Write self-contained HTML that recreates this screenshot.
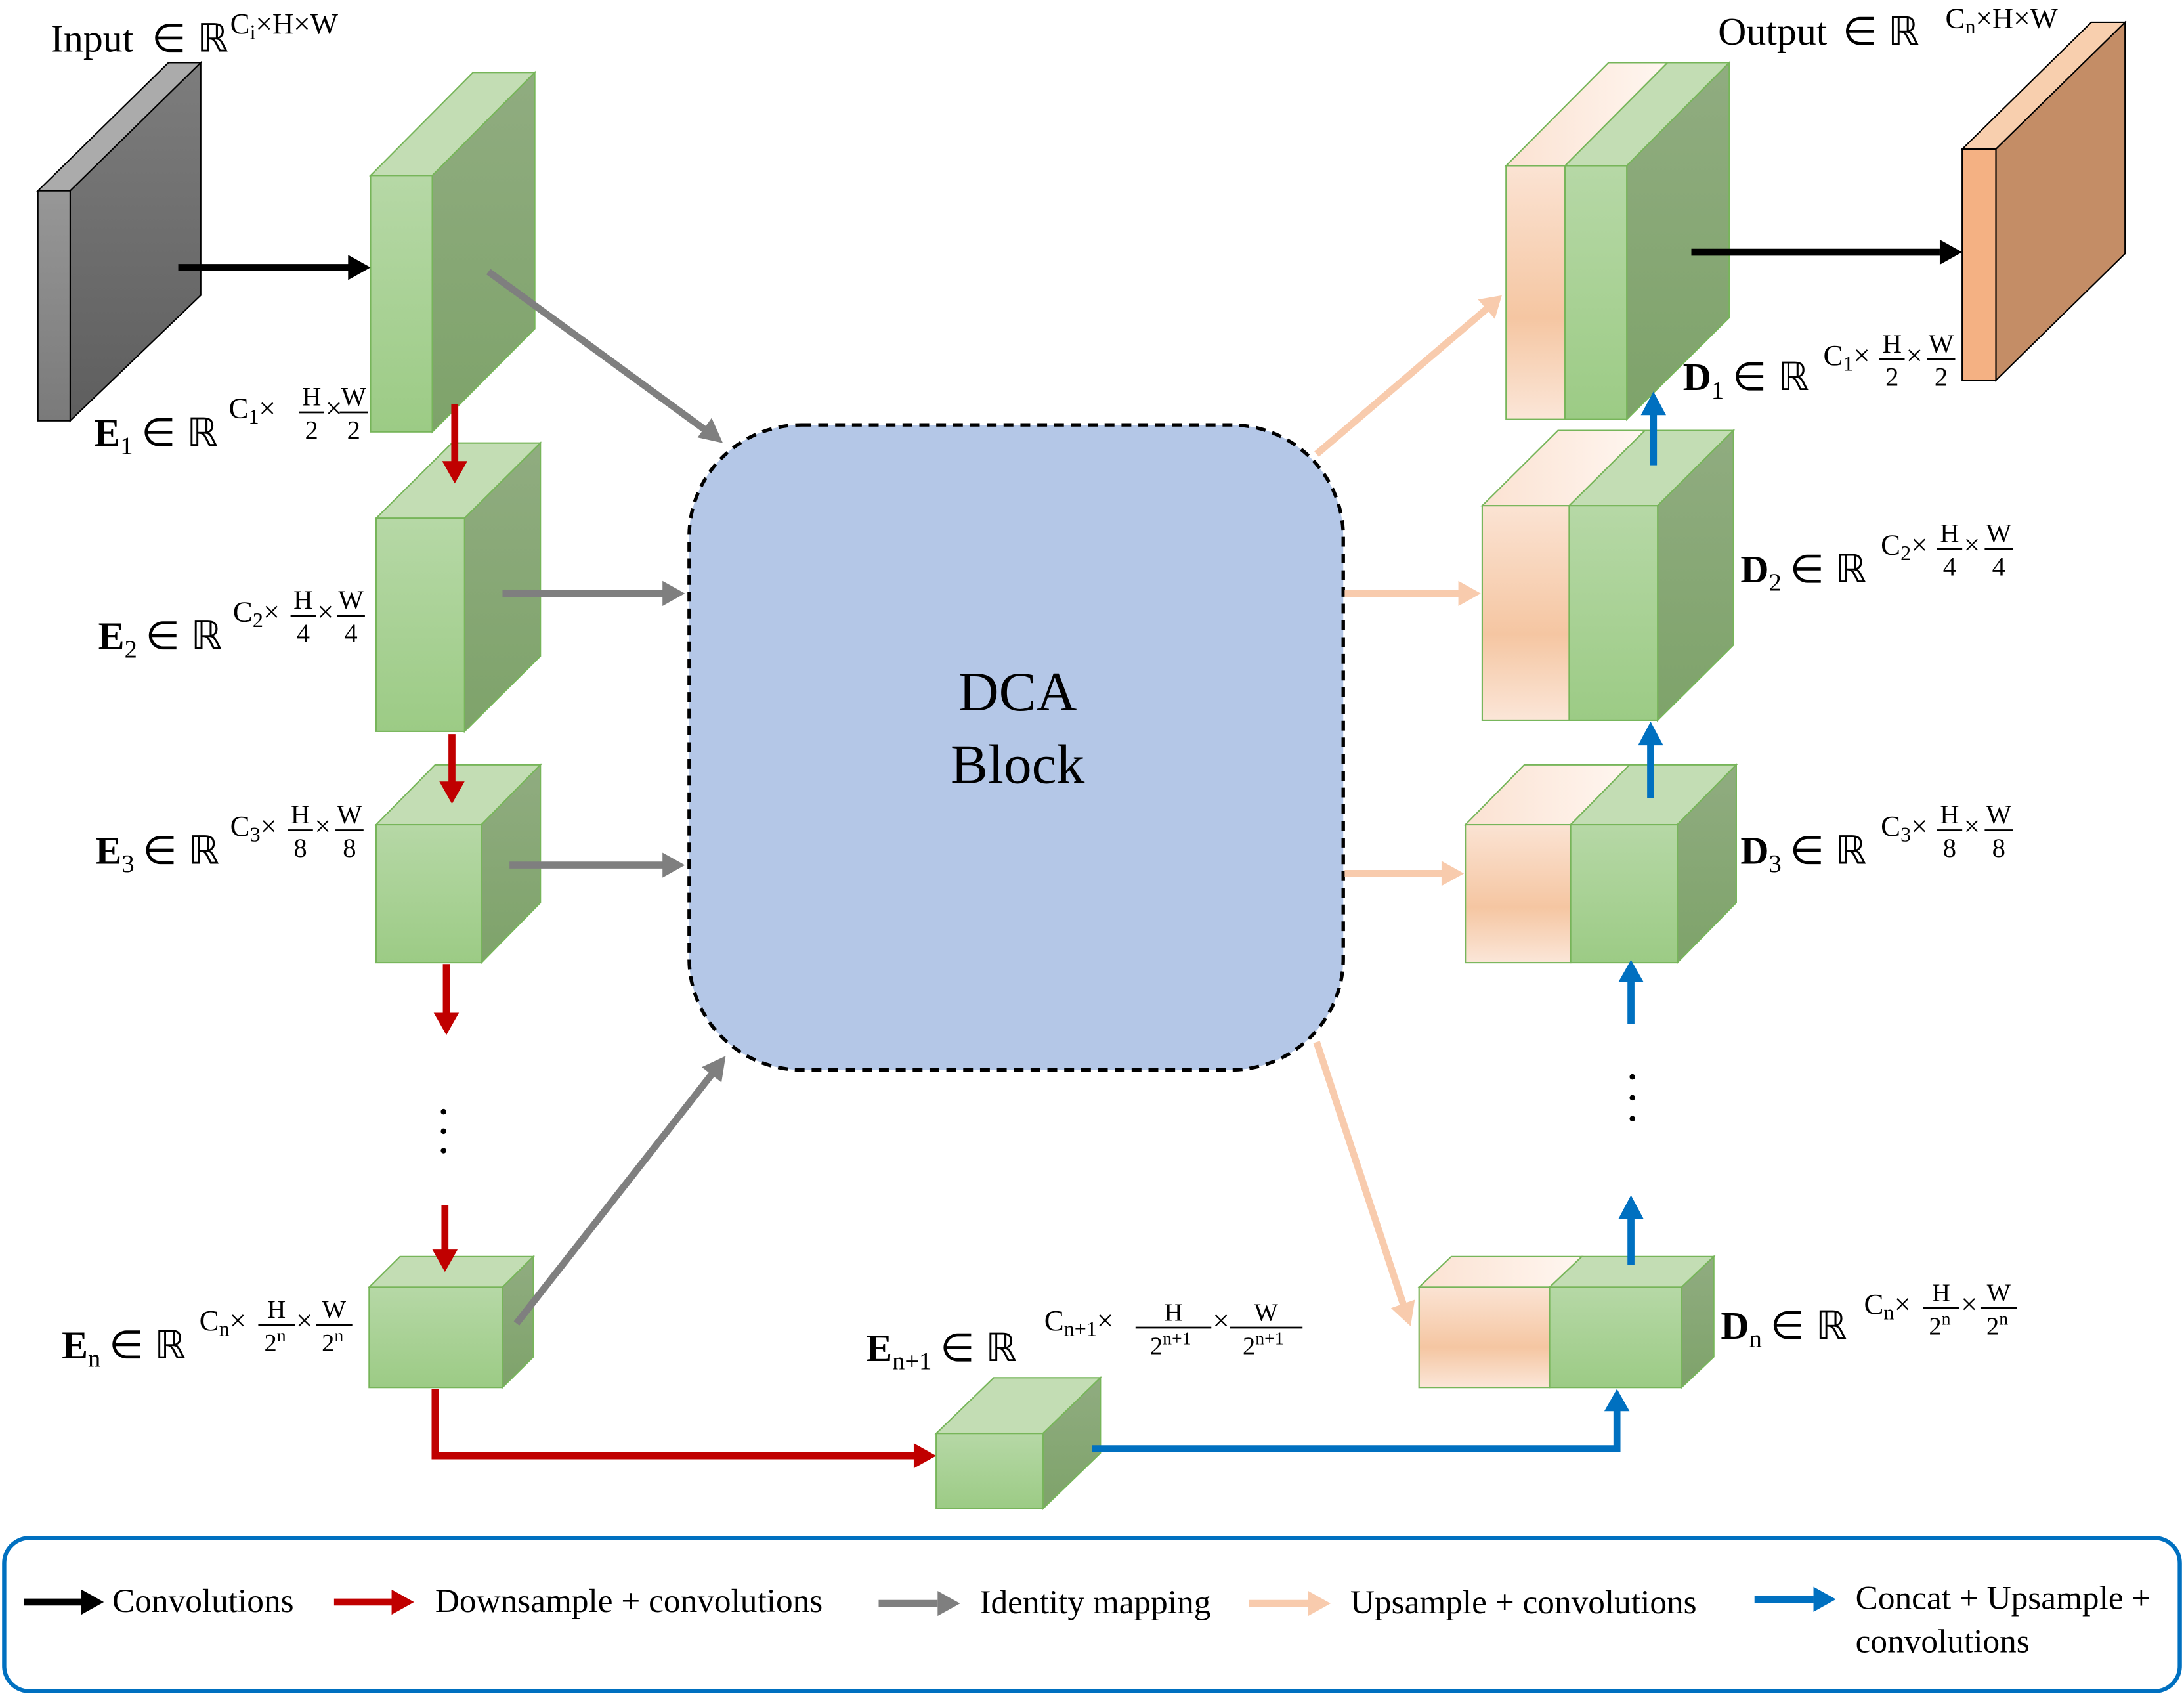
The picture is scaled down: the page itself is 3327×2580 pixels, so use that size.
<!DOCTYPE html>
<html><head><meta charset="utf-8"><style>html,body{margin:0;padding:0;background:#fff}svg{display:block}</style></head><body>
<svg width="3327" height="2580" viewBox="0 0 1556 1216" preserveAspectRatio="none" xmlns="http://www.w3.org/2000/svg" font-family="Liberation Serif, serif">
<defs>
<linearGradient id="gf" x1="0" y1="0" x2="0" y2="1"><stop offset="0" stop-color="#b6d8a6"/><stop offset="1" stop-color="#9ccb85"/></linearGradient>
<linearGradient id="gr" x1="0" y1="0" x2="0" y2="1"><stop offset="0" stop-color="#90ac80"/><stop offset="1" stop-color="#7ea36a"/></linearGradient>
<linearGradient id="pf" x1="0" y1="0" x2="0" y2="1"><stop offset="0" stop-color="#fbe3d3"/><stop offset="0.6" stop-color="#f5c6a2"/><stop offset="1" stop-color="#fbe6d8"/></linearGradient>
<linearGradient id="pt" x1="0" y1="0" x2="1" y2="0"><stop offset="0" stop-color="#fbe2d2"/><stop offset="1" stop-color="#fff6f0"/></linearGradient>
<linearGradient id="kf" x1="0" y1="0" x2="0" y2="1"><stop offset="0" stop-color="#979797"/><stop offset="1" stop-color="#7a7a7a"/></linearGradient>
<linearGradient id="kr" x1="0" y1="0" x2="0" y2="1"><stop offset="0" stop-color="#7d7d7d"/><stop offset="1" stop-color="#5e5e5e"/></linearGradient>
</defs>

<g stroke="#000" stroke-width="1">
<polygon points="27,137 50,137 143,45 120,45" fill="#ababab"/>
<polygon points="50,137 143,45 143,212 50,302" fill="url(#kr)"/>
<rect x="27" y="137" width="23" height="165" fill="url(#kf)"/>
</g>
<g stroke="#000" stroke-width="1">
<polygon points="1398,107 1422,107 1514,16 1490,16" fill="#f8cfae"/>
<polygon points="1422,107 1514,16 1514,182 1422,273" fill="#c48d66"/>
<rect x="1398" y="107" width="24" height="166" fill="#f4b183"/>
</g>

<g stroke="#77b55a" stroke-width="1">
<polygon points="264,126 308,126 381,52 337,52" fill="#c3ddb4"/><polygon points="308,126 381,52 381,236 308,310" fill="url(#gr)"/><rect x="264" y="126" width="44" height="184" fill="url(#gf)"/>
<polygon points="268,372 331,372 385,318 322,318" fill="#c3ddb4"/><polygon points="331,372 385,318 385,471 331,525" fill="url(#gr)"/><rect x="268" y="372" width="63" height="153" fill="url(#gf)"/>
<polygon points="268,592 343,592 385,549 310,549" fill="#c3ddb4"/><polygon points="343,592 385,549 385,648 343,691" fill="url(#gr)"/><rect x="268" y="592" width="75" height="99" fill="url(#gf)"/>
<polygon points="263,924 358,924 380,902 285,902" fill="#c3ddb4"/><polygon points="358,924 380,902 380,974 358,996" fill="url(#gr)"/><rect x="263" y="924" width="95" height="72" fill="url(#gf)"/>
<polygon points="667,1029 743,1029 784,989 708,989" fill="#c3ddb4"/><polygon points="743,1029 784,989 784,1043 743,1083" fill="url(#gr)"/><rect x="667" y="1029" width="76" height="54" fill="url(#gf)"/>
<polygon points="1073,119 1115,119 1188,45 1146,45" fill="url(#pt)"/><polygon points="1115,119 1159,119 1232,45 1188,45" fill="#c3ddb4"/><polygon points="1159,119 1232,45 1232,228 1159,301" fill="url(#gr)"/><rect x="1073" y="119" width="42" height="182" fill="url(#pf)"/><rect x="1115" y="119" width="44" height="182" fill="url(#gf)"/>
<polygon points="1056,363 1118,363 1172,309 1110,309" fill="url(#pt)"/><polygon points="1118,363 1181,363 1235,309 1172,309" fill="#c3ddb4"/><polygon points="1181,363 1235,309 1235,463 1181,517" fill="url(#gr)"/><rect x="1056" y="363" width="62" height="154" fill="url(#pf)"/><rect x="1118" y="363" width="63" height="154" fill="url(#gf)"/>
<polygon points="1044,592 1119,592 1161,549 1086,549" fill="url(#pt)"/><polygon points="1119,592 1195,592 1237,549 1161,549" fill="#c3ddb4"/><polygon points="1195,592 1237,549 1237,648 1195,691" fill="url(#gr)"/><rect x="1044" y="592" width="75" height="99" fill="url(#pf)"/><rect x="1119" y="592" width="76" height="99" fill="url(#gf)"/>
<polygon points="1011,924 1104,924 1127,902 1034,902" fill="url(#pt)"/><polygon points="1104,924 1198,924 1221,902 1127,902" fill="#c3ddb4"/><polygon points="1198,924 1221,902 1221,974 1198,996" fill="url(#gr)"/><rect x="1011" y="924" width="93" height="72" fill="url(#pf)"/><rect x="1104" y="924" width="94" height="72" fill="url(#gf)"/>
</g>

<rect x="491" y="305" width="466" height="463" rx="80" fill="#b4c7e7" stroke="#000" stroke-width="2.5" stroke-dasharray="7,5"/>
<text x="725" y="510" font-size="40" text-anchor="middle">DCA</text>
<text x="725" y="562" font-size="40" text-anchor="middle">Block</text>

<g stroke-width="5" fill="none">
<line x1="127" y1="192" x2="250" y2="192" stroke="#000"/>
<line x1="1205" y1="181" x2="1382" y2="181" stroke="#000"/>
<line x1="348" y1="195" x2="503" y2="309" stroke="#7f7f7f"/>
<line x1="358" y1="426" x2="474" y2="426" stroke="#7f7f7f"/>
<line x1="363" y1="621" x2="474" y2="621" stroke="#7f7f7f"/>
<line x1="368" y1="950" x2="508" y2="770" stroke="#7f7f7f"/>
<line x1="324" y1="290" x2="324" y2="333" stroke="#c00000"/>
<line x1="322" y1="527" x2="322" y2="563" stroke="#c00000"/>
<line x1="318" y1="692" x2="318" y2="729" stroke="#c00000"/>
<line x1="317" y1="865" x2="317" y2="899" stroke="#c00000"/>
<polyline points="310,997 310,1045 653,1045" stroke="#c00000"/>
<line x1="938" y1="326" x2="1060" y2="221" stroke="#f8cbad"/>
<line x1="958" y1="426" x2="1041" y2="426" stroke="#f8cbad"/>
<line x1="958" y1="627" x2="1029" y2="627" stroke="#f8cbad"/>
<line x1="938" y1="748" x2="1000" y2="937" stroke="#f8cbad"/>
<line x1="1178" y1="334" x2="1178" y2="297" stroke="#0070c0"/>
<line x1="1176" y1="573" x2="1176" y2="534" stroke="#0070c0"/>
<line x1="1162" y1="735" x2="1162" y2="704" stroke="#0070c0"/>
<line x1="1162" y1="908" x2="1162" y2="874" stroke="#0070c0"/>
<polyline points="778,1040 1152,1040 1152,1012" stroke="#0070c0"/>
</g>
<g>
<polygon points="264,192 248,183 248,201" fill="#000"/>
<polygon points="1398,181 1382,172 1382,190" fill="#000"/>
<polygon points="515,318 497,314 507,300" fill="#7f7f7f"/>
<polygon points="488,426 472,417 472,435" fill="#7f7f7f"/>
<polygon points="488,621 472,612 472,630" fill="#7f7f7f"/>
<polygon points="517,758 500,766 514,777" fill="#7f7f7f"/>
<polygon points="324,347 315,331 333,331" fill="#c00000"/>
<polygon points="322,577 313,561 331,561" fill="#c00000"/>
<polygon points="318,743 309,727 327,727" fill="#c00000"/>
<polygon points="317,913 308,897 326,897" fill="#c00000"/>
<polygon points="667,1045 651,1036 651,1054" fill="#c00000"/>
<polygon points="1070,212 1053,215 1065,229" fill="#f8cbad"/>
<polygon points="1055,426 1039,417 1039,435" fill="#f8cbad"/>
<polygon points="1043,627 1027,618 1027,636" fill="#f8cbad"/>
<polygon points="1005,952 991,939 1008,933" fill="#f8cbad"/>
<polygon points="1178,281 1169,298 1187,298" fill="#0070c0"/>
<polygon points="1176,518 1167,535 1185,535" fill="#0070c0"/>
<polygon points="1162,689 1153,705 1171,705" fill="#0070c0"/>
<polygon points="1162,858 1153,875 1171,875" fill="#0070c0"/>
<polygon points="1152,997 1143,1013 1161,1013" fill="#0070c0"/>
</g>
<g fill="#000"><circle cx="316" cy="798" r="2"/><circle cx="316" cy="812" r="2"/><circle cx="316" cy="826" r="2"/>
<circle cx="1163" cy="773" r="2"/><circle cx="1163" cy="788" r="2"/><circle cx="1163" cy="803" r="2"/></g>

<g font-size="28">
<text x="36" y="37">Input <tspan dx="6">∈</tspan><tspan dx="8">ℝ</tspan></text>
<text x="164" y="24" font-size="21">C<tspan font-size="15" dy="4">i</tspan><tspan dy="-4">×H×W</tspan></text>
<text x="1224" y="32">Output <tspan dx="4">∈</tspan><tspan dx="8">ℝ</tspan></text>
<text x="1386" y="20" font-size="21">C<tspan font-size="15" dy="4">n</tspan><tspan dy="-4">×H×W</tspan></text>

<text x="67" y="320"><tspan font-weight="bold">E</tspan><tspan font-size="18" dy="6">1</tspan><tspan dy="-6" dx="6">∈</tspan><tspan dx="8">ℝ</tspan></text>
<text x="163" y="300" font-size="21">C<tspan font-size="15" dy="4">1</tspan><tspan dy="-4">×</tspan></text>
<text x="222" y="291" font-size="19" text-anchor="middle">H</text><line x1="213" y1="296" x2="231" y2="296" stroke="#000" stroke-width="1.3"/><text x="222" y="315" font-size="19" text-anchor="middle">2</text>
<text x="232" y="300" font-size="21">×</text>
<text x="252" y="291" font-size="19" text-anchor="middle">W</text><line x1="242" y1="296" x2="262" y2="296" stroke="#000" stroke-width="1.3"/><text x="252" y="315" font-size="19" text-anchor="middle">2</text>

<text x="70" y="466"><tspan font-weight="bold">E</tspan><tspan font-size="18" dy="6">2</tspan><tspan dy="-6" dx="6">∈</tspan><tspan dx="8">ℝ</tspan></text>
<text x="166" y="446" font-size="21">C<tspan font-size="15" dy="4">2</tspan><tspan dy="-4">×</tspan></text>
<text x="216" y="437" font-size="19" text-anchor="middle">H</text><line x1="207" y1="442" x2="225" y2="442" stroke="#000" stroke-width="1.3"/><text x="216" y="461" font-size="19" text-anchor="middle">4</text>
<text x="226" y="446" font-size="21">×</text>
<text x="250" y="437" font-size="19" text-anchor="middle">W</text><line x1="240" y1="442" x2="260" y2="442" stroke="#000" stroke-width="1.3"/><text x="250" y="461" font-size="19" text-anchor="middle">4</text>

<text x="68" y="620"><tspan font-weight="bold">E</tspan><tspan font-size="18" dy="6">3</tspan><tspan dy="-6" dx="6">∈</tspan><tspan dx="8">ℝ</tspan></text>
<text x="164" y="600" font-size="21">C<tspan font-size="15" dy="4">3</tspan><tspan dy="-4">×</tspan></text>
<text x="214" y="591" font-size="19" text-anchor="middle">H</text><line x1="205" y1="596" x2="223" y2="596" stroke="#000" stroke-width="1.3"/><text x="214" y="615" font-size="19" text-anchor="middle">8</text>
<text x="224" y="600" font-size="21">×</text>
<text x="249" y="591" font-size="19" text-anchor="middle">W</text><line x1="239" y1="596" x2="259" y2="596" stroke="#000" stroke-width="1.3"/><text x="249" y="615" font-size="19" text-anchor="middle">8</text>

<text x="44" y="975"><tspan font-weight="bold">E</tspan><tspan font-size="18" dy="6">n</tspan><tspan dy="-6" dx="6">∈</tspan><tspan dx="8">ℝ</tspan></text>
<text x="142" y="955" font-size="21">C<tspan font-size="15" dy="4">n</tspan><tspan dy="-4">×</tspan></text>
<text x="197" y="946" font-size="18" text-anchor="middle">H</text><line x1="184" y1="951" x2="210" y2="951" stroke="#000" stroke-width="1.3"/><text x="196" y="970" font-size="18" text-anchor="middle">2<tspan font-size="13" dy="-7">n</tspan></text>
<text x="211" y="955" font-size="21">×</text>
<text x="238" y="946" font-size="18" text-anchor="middle">W</text><line x1="225" y1="951" x2="251" y2="951" stroke="#000" stroke-width="1.3"/><text x="237" y="970" font-size="18" text-anchor="middle">2<tspan font-size="13" dy="-7">n</tspan></text>

<text x="617" y="977"><tspan font-weight="bold">E</tspan><tspan font-size="18" dy="6">n+1</tspan><tspan dy="-6" dx="6">∈</tspan><tspan dx="8">ℝ</tspan></text>
<text x="744" y="955" font-size="21">C<tspan font-size="15" dy="4">n+1</tspan><tspan dy="-4">×</tspan></text>
<text x="836" y="948" font-size="18" text-anchor="middle">H</text><line x1="809" y1="953" x2="863" y2="953" stroke="#000" stroke-width="1.3"/><text x="834" y="972" font-size="18" text-anchor="middle">2<tspan font-size="13" dy="-7">n+1</tspan></text>
<text x="864" y="955" font-size="21">×</text>
<text x="902" y="948" font-size="18" text-anchor="middle">W</text><line x1="876" y1="953" x2="928" y2="953" stroke="#000" stroke-width="1.3"/><text x="900" y="972" font-size="18" text-anchor="middle">2<tspan font-size="13" dy="-7">n+1</tspan></text>

<text x="1199" y="280"><tspan font-weight="bold">D</tspan><tspan font-size="18" dy="6">1</tspan><tspan dy="-6" dx="6">∈</tspan><tspan dx="8">ℝ</tspan></text>
<text x="1299" y="262" font-size="21">C<tspan font-size="15" dy="4">1</tspan><tspan dy="-4">×</tspan></text>
<text x="1348" y="253" font-size="19" text-anchor="middle">H</text><line x1="1339" y1="258" x2="1357" y2="258" stroke="#000" stroke-width="1.3"/><text x="1348" y="277" font-size="19" text-anchor="middle">2</text>
<text x="1358" y="262" font-size="21">×</text>
<text x="1383" y="253" font-size="19" text-anchor="middle">W</text><line x1="1373" y1="258" x2="1393" y2="258" stroke="#000" stroke-width="1.3"/><text x="1383" y="277" font-size="19" text-anchor="middle">2</text>

<text x="1240" y="418"><tspan font-weight="bold">D</tspan><tspan font-size="18" dy="6">2</tspan><tspan dy="-6" dx="6">∈</tspan><tspan dx="8">ℝ</tspan></text>
<text x="1340" y="398" font-size="21">C<tspan font-size="15" dy="4">2</tspan><tspan dy="-4">×</tspan></text>
<text x="1389" y="389" font-size="19" text-anchor="middle">H</text><line x1="1380" y1="394" x2="1398" y2="394" stroke="#000" stroke-width="1.3"/><text x="1389" y="413" font-size="19" text-anchor="middle">4</text>
<text x="1399" y="398" font-size="21">×</text>
<text x="1424" y="389" font-size="19" text-anchor="middle">W</text><line x1="1414" y1="394" x2="1434" y2="394" stroke="#000" stroke-width="1.3"/><text x="1424" y="413" font-size="19" text-anchor="middle">4</text>

<text x="1240" y="620"><tspan font-weight="bold">D</tspan><tspan font-size="18" dy="6">3</tspan><tspan dy="-6" dx="6">∈</tspan><tspan dx="8">ℝ</tspan></text>
<text x="1340" y="600" font-size="21">C<tspan font-size="15" dy="4">3</tspan><tspan dy="-4">×</tspan></text>
<text x="1389" y="591" font-size="19" text-anchor="middle">H</text><line x1="1380" y1="596" x2="1398" y2="596" stroke="#000" stroke-width="1.3"/><text x="1389" y="615" font-size="19" text-anchor="middle">8</text>
<text x="1399" y="600" font-size="21">×</text>
<text x="1424" y="591" font-size="19" text-anchor="middle">W</text><line x1="1414" y1="596" x2="1434" y2="596" stroke="#000" stroke-width="1.3"/><text x="1424" y="615" font-size="19" text-anchor="middle">8</text>

<text x="1226" y="961"><tspan font-weight="bold">D</tspan><tspan font-size="18" dy="6">n</tspan><tspan dy="-6" dx="6">∈</tspan><tspan dx="8">ℝ</tspan></text>
<text x="1328" y="943" font-size="21">C<tspan font-size="15" dy="4">n</tspan><tspan dy="-4">×</tspan></text>
<text x="1383" y="934" font-size="18" text-anchor="middle">H</text><line x1="1370" y1="939" x2="1396" y2="939" stroke="#000" stroke-width="1.3"/><text x="1382" y="958" font-size="18" text-anchor="middle">2<tspan font-size="13" dy="-7">n</tspan></text>
<text x="1397" y="943" font-size="21">×</text>
<text x="1424" y="934" font-size="18" text-anchor="middle">W</text><line x1="1411" y1="939" x2="1437" y2="939" stroke="#000" stroke-width="1.3"/><text x="1423" y="958" font-size="18" text-anchor="middle">2<tspan font-size="13" dy="-7">n</tspan></text>
</g>

<rect x="3" y="1104" width="1550" height="110" rx="18" fill="none" stroke="#0070c0" stroke-width="3"/>
<g stroke-width="5">
<line x1="17" y1="1150" x2="60" y2="1150" stroke="#000"/>
<line x1="238" y1="1150" x2="280" y2="1150" stroke="#c00000"/>
<line x1="626" y1="1151" x2="668" y2="1151" stroke="#7f7f7f"/>
<line x1="890" y1="1151" x2="932" y2="1151" stroke="#f8cbad"/>
<line x1="1250" y1="1148" x2="1292" y2="1148" stroke="#0070c0"/>
</g>
<polygon points="74,1150 58,1141 58,1159" fill="#000"/>
<polygon points="295,1150 279,1141 279,1159" fill="#c00000"/>
<polygon points="684,1151 668,1142 668,1160" fill="#7f7f7f"/>
<polygon points="948,1151 932,1142 932,1160" fill="#f8cbad"/>
<polygon points="1308,1148 1292,1139 1292,1157" fill="#0070c0"/>
<g font-size="24">
<text x="80" y="1157">Convolutions</text>
<text x="310" y="1157">Downsample + convolutions</text>
<text x="698" y="1158">Identity mapping</text>
<text x="962" y="1158">Upsample + convolutions</text>
<text x="1322" y="1155">Concat + Upsample +</text>
<text x="1322" y="1186">convolutions</text>
</g>
</svg>
</body></html>
